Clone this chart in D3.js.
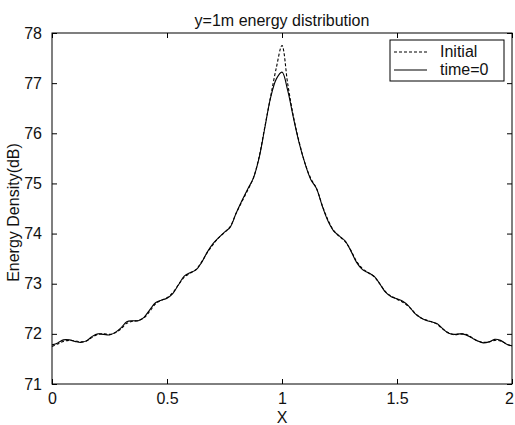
<!DOCTYPE html>
<html>
<head>
<meta charset="utf-8">
<script src="https://cdn.jsdelivr.net/npm/d3@7"></script>
<style>
	body { margin: 0; background: #fff; }
	text { font-family: "Liberation Sans", Arial, sans-serif; fill: #111; }
</style>
</head>
<body>
<div id="chart"></div>
<script>
// x positions, step 0.025 from 0 to 2
var xs = d3.range(0, 81).map(function(i) { return i * 0.025; });

// "Initial" (dashed)
var initial = [
	71.75, 71.80, 71.85, 71.87, 71.86, 71.84, 71.86, 71.93, 71.99, 72.00,
	71.99, 72.02, 72.10, 72.21, 72.25, 72.27, 72.32, 72.45, 72.60, 72.67,
	72.72, 72.82, 72.98, 73.13, 73.21, 73.28, 73.43, 73.62, 73.78, 73.92,
	74.02, 74.14, 74.40, 74.63, 74.86, 75.10, 75.52, 76.12, 76.72, 77.30,
	77.75,
	76.98, 76.33, 75.82, 75.40, 75.10, 74.90, 74.56, 74.27, 74.06, 73.94,
	73.84, 73.66, 73.44, 73.30, 73.22, 73.14, 73.00, 72.84, 72.75, 72.69,
	72.63, 72.55, 72.43, 72.33, 72.28, 72.24, 72.19, 72.09, 72.02, 71.98,
	72.00, 71.99, 71.93, 71.86, 71.83, 71.84, 71.87, 71.86, 71.80, 71.75
];

// "time=0" (solid)
var time0 = [
	71.78, 71.82, 71.88, 71.88, 71.85, 71.83, 71.86, 71.95, 72.00, 71.99,
	71.98, 72.03, 72.12, 72.24, 72.26, 72.26, 72.33, 72.48, 72.62, 72.67,
	72.71, 72.80, 72.98, 73.15, 73.22, 73.27, 73.42, 73.63, 73.80, 73.92,
	74.03, 74.13, 74.40, 74.65, 74.88, 75.10, 75.50, 76.10, 76.70, 77.08,
	77.22,
	76.85, 76.30, 75.80, 75.40, 75.08, 74.90, 74.55, 74.25, 74.05, 73.95,
	73.85, 73.65, 73.42, 73.28, 73.22, 73.15, 73.00, 72.83, 72.74, 72.70,
	72.65, 72.56, 72.42, 72.33, 72.27, 72.24, 72.20, 72.10, 72.01, 71.99,
	72.00, 71.98, 71.92, 71.86, 71.82, 71.84, 71.89, 71.87, 71.80, 71.76
];

var xTicks = [0, 0.5, 1, 1.5, 2];
var yTicks = [71, 72, 73, 74, 75, 76, 77, 78];
var legendLabels = ["Initial", "time=0"];

var W = 515, H = 425;
var margin = {top: 33, right: 3, bottom: 41, left: 52};
var width = W - margin.left - margin.right;
var height = H - margin.top - margin.bottom;

var svg = d3.select("#chart").append("svg")
	.attr("width", W)
	.attr("height", H)
	.append("g")
	.attr("transform", "translate(" + margin.left + "," + margin.top + ")");

var x = d3.scaleLinear().domain([0, 2]).range([0, width]);
var y = d3.scaleLinear().domain([71, 78]).range([height, 0]);

// box
svg.append("rect")
	.attr("width", width)
	.attr("height", height)
	.attr("fill", "none")
	.attr("stroke", "#000")
	.attr("stroke-width", 1);

// axes, MATLAB style ticks pointing inwards
var xAxis = d3.axisBottom(x).tickValues(xTicks).tickSizeInner(-5).tickSizeOuter(0).tickPadding(9)
	.tickFormat(function(d) { return d; });
var yAxis = d3.axisLeft(y).tickValues(yTicks).tickSizeInner(-5).tickSizeOuter(0).tickPadding(10)
	.tickFormat(d3.format("d"));

var gx = svg.append("g").attr("transform", "translate(0," + height + ")").call(xAxis);
var gy = svg.append("g").call(yAxis);
svg.append("g").call(d3.axisTop(x).tickValues(xTicks).tickSizeInner(-5).tickSizeOuter(0).tickFormat(""));
svg.append("g").attr("transform", "translate(" + width + ",0)")
	.call(d3.axisRight(y).tickValues(yTicks).tickSizeInner(-5).tickSizeOuter(0).tickFormat(""));

svg.selectAll(".domain").remove();
svg.selectAll(".tick line").attr("stroke", "#000");
gx.selectAll("text").style("font-size", "16px").attr("fill", "#111")
	.attr("dx", function(d) { return d === 2 ? "-3" : null; });
gy.selectAll("text").style("font-size", "16px").attr("fill", "#111");

// lines
var line = d3.line()
	.x(function(d, i) { return x(xs[i]); })
	.y(function(d) { return y(d); })
	.curve(d3.curveCatmullRom.alpha(0.5));

svg.append("path")
	.datum(time0)
	.attr("d", line)
	.attr("fill", "none")
	.attr("stroke", "#000")
	.attr("stroke-width", 1.1);

svg.append("path")
	.datum(initial)
	.attr("d", line)
	.attr("fill", "none")
	.attr("stroke", "#000")
	.attr("stroke-width", 1.1)
	.attr("stroke-dasharray", "3,2");

// title and axis labels
svg.append("text")
	.attr("x", width / 2)
	.attr("y", -7)
	.attr("text-anchor", "middle")
	.style("font-size", "16px")
	.text("y=1m energy distribution");

svg.append("text")
	.attr("x", width / 2)
	.attr("y", height + 39)
	.attr("text-anchor", "middle")
	.style("font-size", "16px")
	.text("X");

svg.append("text")
	.attr("transform", "translate(" + (-33) + "," + (height / 2 + 4) + ") rotate(-90)")
	.attr("text-anchor", "middle")
	.style("font-size", "16px")
	.text("Energy Density(dB)");

// legend
var legend = svg.append("g").attr("transform", "translate(" + (width - 122) + ",7)");
legend.append("rect")
	.attr("width", 114)
	.attr("height", 41)
	.attr("fill", "#fff")
	.attr("stroke", "#000");

var rows = legend.selectAll(".legend")
	.data(legendLabels)
	.enter().append("g")
	.attr("class", "legend")
	.attr("transform", function(d, i) { return "translate(0," + (12 + i * 18) + ")"; });

rows.append("line")
	.attr("x1", 4)
	.attr("x2", 37)
	.attr("stroke", "#000")
	.attr("stroke-width", 1.1)
	.attr("stroke-dasharray", function(d, i) { return i === 0 ? "3,2" : null; });

rows.append("text")
	.attr("x", 50)
	.attr("y", 5)
	.style("font-size", "16px")
	.text(function(d) { return d; });
</script>
</body>
</html>
